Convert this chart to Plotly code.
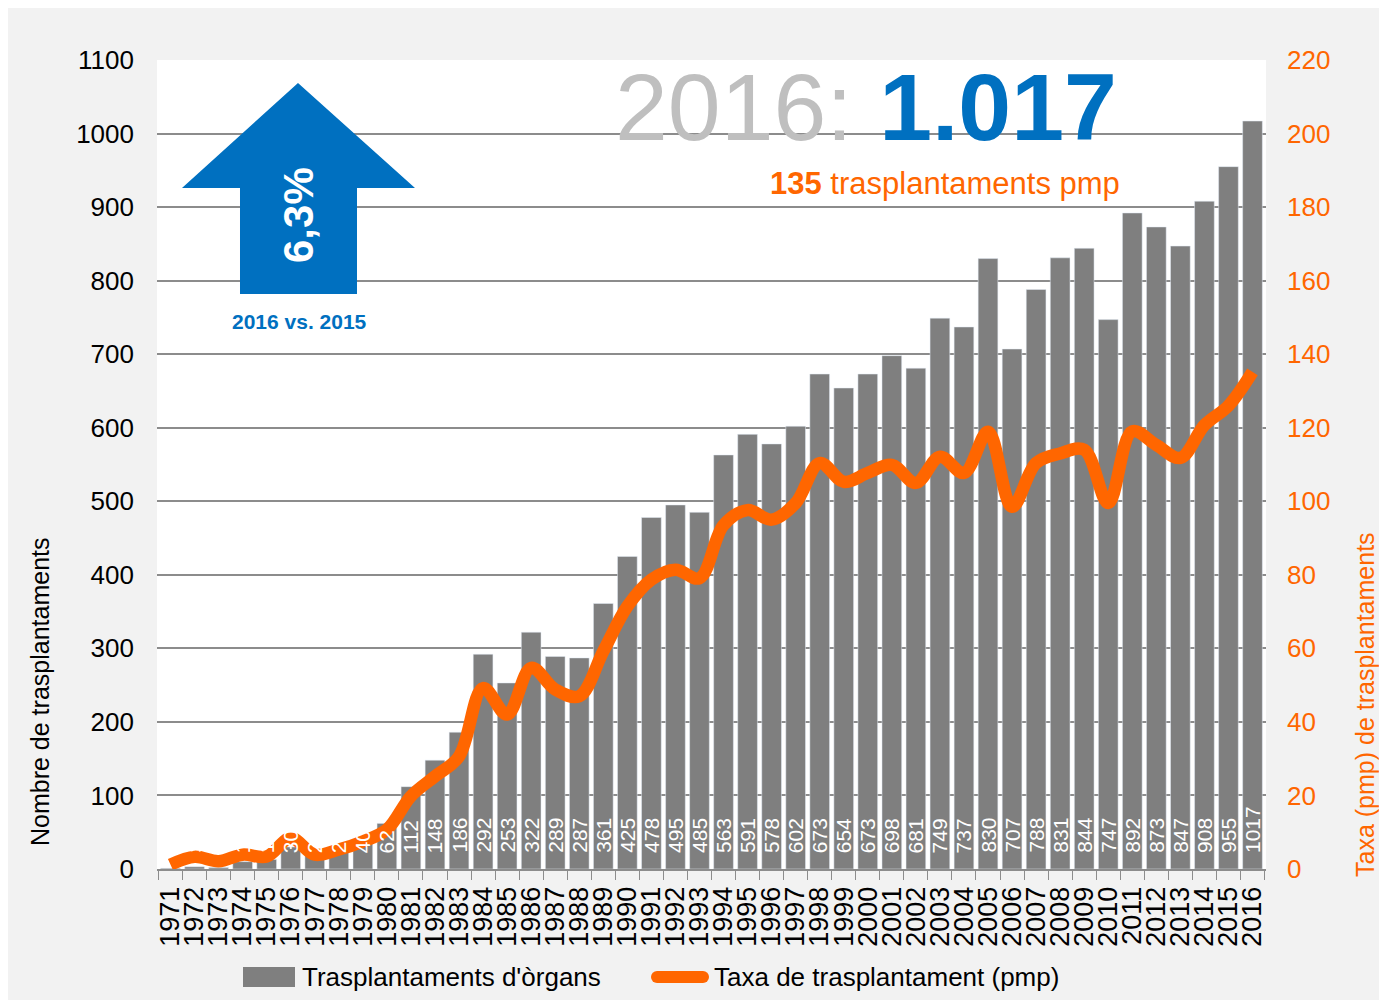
import plotly.graph_objects as go

years = list(range(1971, 2017))
transplants = [1, 3, 2, 10, 13, 30, 22, 28, 40, 62,
               112, 148, 186, 292, 253, 322, 289, 287, 361, 425,
               478, 495, 485, 563, 591, 578, 602, 673, 654, 673,
               698, 681, 749, 737, 830, 707, 788, 831, 844, 747,
               892, 873, 847, 908, 955, 1017]
pmp_rate = [1.2, 3.3, 2.1, 3.9, 3.4, 8.4, 3.9, 5.3, 7.5, 10.7,
            19.8, 25.2, 30.6, 49.2, 42.0, 54.7, 48.8, 47.0, 59.2, 71.4,
            78.7, 81.4, 79.1, 93.5, 97.6, 95.0, 99.5, 110.4, 105.3, 107.7,
            109.9, 105.0, 112.1, 107.7, 118.9, 98.5, 110.4, 113.0, 114.0, 99.5,
            119.0, 115.3, 111.8, 120.7, 126.0, 135.2]
left_ticks = list(range(0, 1101, 100))
right_ticks = list(range(0, 221, 20))

FONT = "Liberation Sans, Arial, sans-serif"
GRAY_BAR = "#7f7f7f"
ORANGE = "#ff6600"
BLUE = "#0070c0"

# page offset: browser body margin (8px) gives the white outer strip
OFF = 8
W, H = 1387, 1000
PL, PR, PT, PB = 157, 1266, 60, 869   # plot area in page pixels


def fx(px):
    return (px - PL) / (PR - PL)


def fy(py):
    return (PB - py) / (PB - PT)


xcat = [str(y) for y in years]

fig = go.Figure()
fig.add_trace(go.Bar(x=xcat, y=transplants, marker_color=GRAY_BAR,
                     name="Trasplantaments d'òrgans", showlegend=False,
                     hoverinfo="x+y"))
fig.add_trace(go.Scatter(x=xcat, y=pmp_rate, yaxis="y2", mode="lines",
                         line=dict(color=ORANGE, width=12.5, shape="spline"),
                         name="Taxa de trasplantament (pmp)", showlegend=False))


def pann(px, py, text, size, color, angle=0, xanchor="center"):
    return dict(x=fx(px), y=fy(py), xref="paper", yref="paper", text=text,
                textangle=angle, showarrow=False, xanchor=xanchor, yanchor="middle",
                font=dict(family=FONT, size=size, color=color))


annotations = []
# bar value labels (inside base, rotated)
for i, v in enumerate(transplants):
    annotations.append(dict(x=i, y=0, xref="x", yref="y", text=str(v),
                            textangle=-90, showarrow=False, xanchor="center",
                            yanchor="bottom", yshift=14,
                            font=dict(family=FONT, size=21, color="white")))

annotations += [
    pann(40, 692, "Nombre de trasplantaments", 25, "black", angle=-90),
    pann(1365, 705, "Taxa (pmp) de trasplantaments", 25, ORANGE, angle=-90),
    pann(866, 107, '<span style="color:#bfbfbf">2016: </span><b>1.017</b>', 95, BLUE),
    pann(945, 183, "<b>135</b> trasplantaments pmp", 31, ORANGE),
    pann(298, 215, "<b>6,3%</b>", 42, "white", angle=-90),
    pann(299, 321, "<b>2016 vs. 2015</b>", 21, BLUE),
    pann(300, 977, "Trasplantaments d'òrgans", 26, "black", xanchor="left"),
    pann(712, 977, "Taxa de trasplantament (pmp)", 26, "black", xanchor="left"),
]

arrow_pts = [(298, 83), (415, 188), (357, 188), (357, 294),
             (240, 294), (240, 188), (182, 188)]
path = "M " + " L ".join(f"{fx(a):.5f},{fy(b):.5f}" for a, b in arrow_pts) + " Z"

shapes = [
    dict(type="path", xref="paper", yref="paper", path=path,
         fillcolor=BLUE, line=dict(width=0), layer="above"),
    # legend symbols
    dict(type="rect", xref="paper", yref="paper", x0=fx(243), x1=fx(295), y0=fy(987), y1=fy(967),
         fillcolor=GRAY_BAR, line=dict(width=0)),
    dict(type="line", xref="paper", yref="paper", x0=fx(657), x1=fx(703), y0=fy(977), y1=fy(977),
         line=dict(color=ORANGE, width=12)),
    dict(type="circle", xref="paper", yref="paper", x0=fx(651), x1=fx(663), y0=fy(983), y1=fy(971),
         fillcolor=ORANGE, line=dict(width=0)),
    dict(type="circle", xref="paper", yref="paper", x0=fx(697), x1=fx(709), y0=fy(983), y1=fy(971),
         fillcolor=ORANGE, line=dict(width=0)),
]

fig.update_layout(
    width=W - OFF, height=H - OFF,
    margin=dict(l=PL - OFF, r=W - PR, t=PT - OFF, b=H - PB, pad=0),
    paper_bgcolor="#f2f2f2", plot_bgcolor="white",
    bargap=0.18, showlegend=False,
    font=dict(family=FONT, color="black"),
    xaxis=dict(type="category", tickmode="array", tickvals=xcat, ticktext=xcat,
               tickson="boundaries", ticks="outside", ticklen=9,
               tickcolor="#8c8c8c", tickwidth=1, showline=True, linecolor="#8c8c8c",
               linewidth=2, tickangle=-90, showgrid=False, ticklabelstandoff=5,
               tickfont=dict(family=FONT, size=27, color="black")),
    yaxis=dict(range=[0, 1100], tickvals=left_ticks, showgrid=True, gridcolor="#8c8c8c",
               gridwidth=2, zeroline=False, ticks="", ticklabelstandoff=22,
               tickfont=dict(family=FONT, size=26, color="black")),
    yaxis2=dict(range=[0, 220], tickvals=right_ticks, overlaying="y", side="right",
                showgrid=False, zeroline=False, ticks="", ticklabelstandoff=20,
                tickfont=dict(family=FONT, size=26, color=ORANGE)),
    annotations=annotations,
    shapes=shapes,
)

fig.write_html("out.html")
